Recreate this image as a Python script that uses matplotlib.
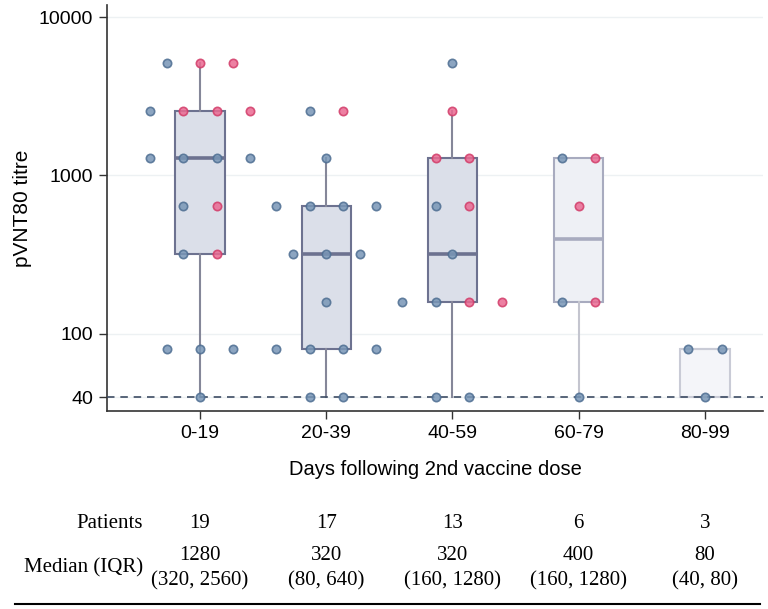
import matplotlib
matplotlib.use('Agg')
import matplotlib.pyplot as plt
import matplotlib.transforms as mtransforms
import numpy as np

days = ['0-19', '20-39', '40-59', '60-79', '80-99']

# titres per day bin, split by the two point colours in the figure
blue_titres = [
    [5120, 2560, 1280, 1280, 1280, 1280, 640, 320, 80, 80, 80, 40],
    [2560, 1280, 640, 640, 640, 640, 320, 320, 320, 160, 80, 80, 80, 80, 40, 40],
    [5120, 640, 320, 160, 160, 40, 40],
    [1280, 160, 40],
    [80, 80, 40],
]
red_titres = [
    [5120, 5120, 2560, 2560, 2560, 640, 320],
    [2560],
    [2560, 1280, 1280, 640, 160, 160],
    [1280, 640, 160],
    [],
]

medians = [1280, 320, 320, 400, 80]
q1s = [320, 80, 160, 160, 40]
q3s = [2560, 640, 1280, 1280, 80]
whis_lo = [40, 40, 40, 40, 40]
whis_hi = [5120, 1280, 2560, 1280, 80]

LOD = 40

box_face = ['#dbdfe9', '#dbdfe9', '#dbdfe9', '#eef0f5', '#f4f5f9']
box_edge = ['#6d7290', '#6d7290', '#6d7290', '#a8abbf', '#c9cbd6']
whisk_col = ['#858799', '#858799', '#858799', '#c4c5cf', '#c9cbd6']
median_lw = [2.6, 2.6, 2.6, 2.6, 1.5]

BLUE_FACE, BLUE_EDGE = '#7896b6', '#4e6e92'
RED_FACE, RED_EDGE = '#ea6a92', '#d23c69'

SANS = 'Liberation Sans'
SERIF = 'Liberation Serif'


def render():
    fig = plt.figure(figsize=(7.68, 6.09), dpi=100)
    ax = fig.add_axes([107 / 768, 1 - 411 / 609, 656 / 768, 406 / 609])

    # boxes
    for i in range(len(days)):
        st = {'med': medians[i], 'q1': q1s[i], 'q3': q3s[i],
              'whislo': whis_lo[i], 'whishi': whis_hi[i]}
        ax.bxp([st], positions=[i], widths=0.39, showcaps=False, showfliers=False,
               patch_artist=True,
               boxprops=dict(facecolor=box_face[i], edgecolor=box_edge[i], linewidth=1.5),
               medianprops=dict(color=box_edge[i], linewidth=median_lw[i]),
               whiskerprops=dict(color=whisk_col[i], linewidth=1.5),
               zorder=2)

    # points: at each titre level, spread the points evenly around the box centre
    step = 0.264
    for i in range(len(days)):
        vals = blue_titres[i] + red_titres[i]
        cols = ['b'] * len(blue_titres[i]) + ['r'] * len(red_titres[i])
        for level in sorted(set(vals), reverse=True):
            idx = [k for k, v in enumerate(vals) if v == level]
            n = len(idx)
            offs = (np.arange(n) - (n - 1) / 2) * step
            for k, off in zip(idx, offs):
                face, edge = (BLUE_FACE, BLUE_EDGE) if cols[k] == 'b' else (RED_FACE, RED_EDGE)
                ax.scatter(i + off, level, s=36, facecolor=face, edgecolor=edge,
                           linewidth=1.2, alpha=0.85, zorder=4)

    ax.axhline(LOD, color='#3d4c63', linewidth=1.2, linestyle=(0, (4.5, 3.5)), zorder=3)

    ax.set_yscale('log')
    ax.set_ylim(32.65, 11905)
    ax.set_xlim(-0.737, 4.46)
    ax.set_yticks([40, 100, 1000, 10000])
    ax.set_yticklabels(['40', '100', '1000', '10000'], fontsize=14, family=SANS)
    ax.yaxis.set_minor_locator(matplotlib.ticker.NullLocator())
    ax.set_xticks(range(len(days)))
    ax.set_xticklabels(days, fontsize=14, family=SANS)
    ax.tick_params(axis='both', length=6, width=1, color='#333333', pad=4)
    ax.grid(axis='y', color='#edf1f3', linewidth=1)
    ax.set_axisbelow(True)
    for side in ['top', 'right']:
        ax.spines[side].set_visible(False)
    for side in ['left', 'bottom']:
        ax.spines[side].set_color('#333333')
        ax.spines[side].set_linewidth(1.2)

    ax.set_ylabel('pVNT80 titre', fontsize=15, family=SANS)
    ax.yaxis.set_label_coords(-0.115, 0.5)
    ax.set_xlabel('Days following 2nd vaccine dose', fontsize=14.5, family=SANS, labelpad=13)

    # summary table under the plot
    trans = mtransforms.blended_transform_factory(ax.transData, fig.transFigure)
    label_x = 143 / 768
    fig.text(label_x, 1 - 524 / 609, 'Patients', ha='right', va='center',
             fontsize=15, family=SERIF)
    fig.text(label_x, 1 - 568 / 609, 'Median (IQR)', ha='right', va='center',
             fontsize=15, family=SERIF)
    for i in range(len(days)):
        n = len(blue_titres[i]) + len(red_titres[i])
        ax.text(i, 1 - 524 / 609, str(n), transform=trans, ha='center', va='center',
                fontsize=15, family=SERIF)
        ax.text(i, 1 - 555 / 609, str(medians[i]), transform=trans, ha='center',
                va='center', fontsize=15, family=SERIF)
        ax.text(i, 1 - 581 / 609, f'({q1s[i]}, {q3s[i]})', transform=trans,
                ha='center', va='center', fontsize=15, family=SERIF)
    fig.add_artist(plt.Line2D([15 / 768, 760 / 768], [1 - 604 / 609] * 2,
                              color='black', linewidth=1.5))

    fig.savefig('out.png', dpi=100, facecolor='white')


def main():
    render()


if __name__ == '__main__':
    main()
